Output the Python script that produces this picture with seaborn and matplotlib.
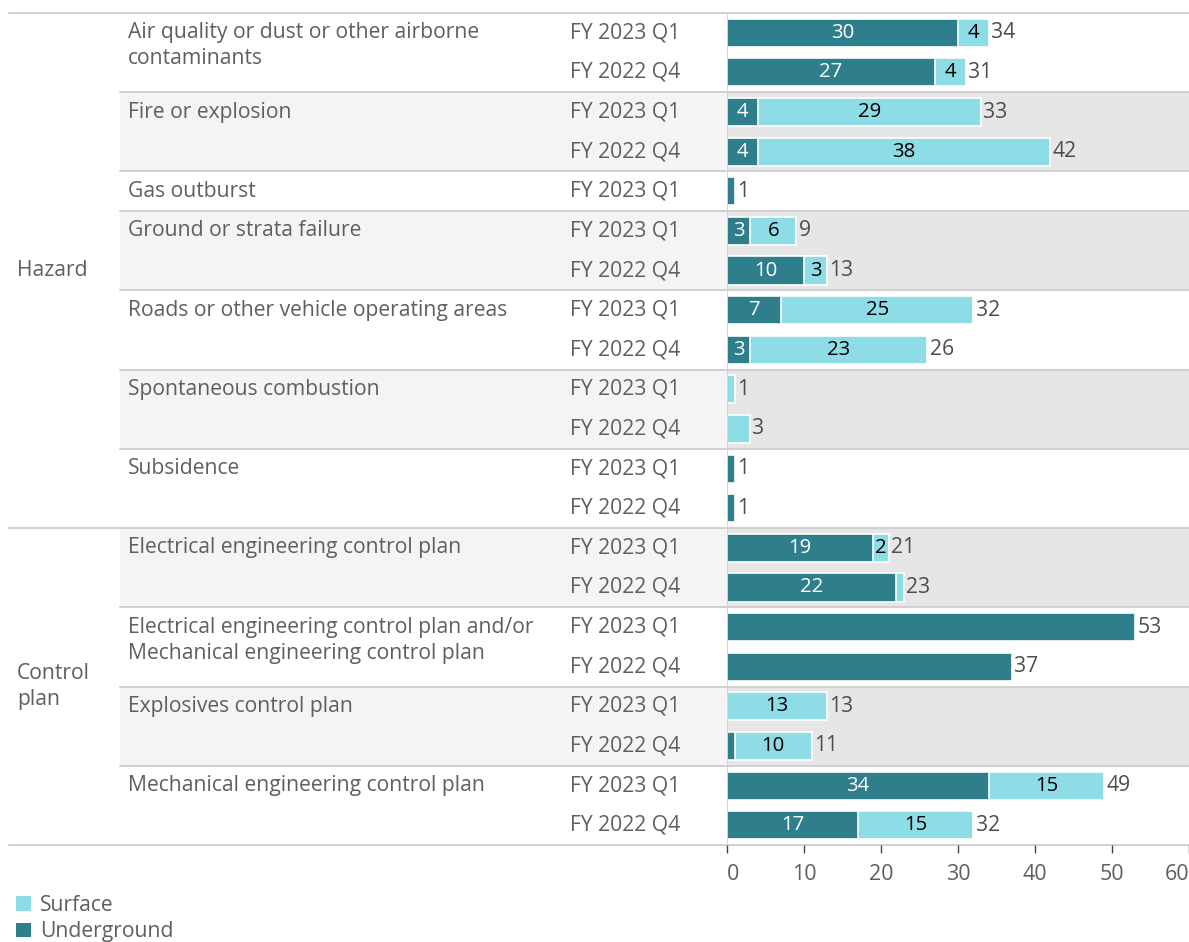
import numpy as np
import pandas as pd
import matplotlib
matplotlib.use("Agg")
import matplotlib.pyplot as plt
from matplotlib.patches import Rectangle, Patch
from matplotlib.lines import Line2D
from matplotlib.transforms import blended_transform_factory
import seaborn as sns

# ---------------- data ----------------
groups = ["Hazard", "Control\nplan"]
categories = [
    "Air quality or dust or other airborne\ncontaminants",
    "Fire or explosion",
    "Gas outburst",
    "Ground or strata failure",
    "Roads or other vehicle operating areas",
    "Spontaneous combustion",
    "Subsidence",
    "Electrical engineering control plan",
    "Electrical engineering control plan and/or\nMechanical engineering control plan",
    "Explosives control plan",
    "Mechanical engineering control plan",
]
category_group = [0, 0, 0, 0, 0, 0, 0, 1, 1, 1, 1]
row_category = [0, 0, 1, 1, 2, 3, 3, 4, 4, 5, 5, 6, 6, 7, 7, 8, 8, 9, 9, 10, 10]
row_period = ["FY 2023 Q1", "FY 2022 Q4", "FY 2023 Q1", "FY 2022 Q4", "FY 2023 Q1",
              "FY 2023 Q1", "FY 2022 Q4", "FY 2023 Q1", "FY 2022 Q4", "FY 2023 Q1",
              "FY 2022 Q4", "FY 2023 Q1", "FY 2022 Q4", "FY 2023 Q1", "FY 2022 Q4",
              "FY 2023 Q1", "FY 2022 Q4", "FY 2023 Q1", "FY 2022 Q4", "FY 2023 Q1",
              "FY 2022 Q4"]
underground = [30, 27, 4, 4, 1, 3, 10, 7, 3, 0, 0, 1, 1, 19, 22, 53, 37, 0, 1, 34, 17]
surface = [4, 4, 29, 38, 0, 6, 3, 25, 23, 1, 3, 0, 0, 2, 1, 0, 0, 13, 10, 15, 15]
underground_labels = ["30", "27", "4", "4", "", "3", "10", "7", "3", "", "", "", "",
                      "19", "22", "", "", "", "", "34", "17"]
surface_labels = ["4", "4", "29", "38", "", "6", "3", "25", "23", "", "", "", "",
                  "2", "", "", "", "13", "10", "15", "15"]
xticks = [0, 10, 20, 30, 40, 50, 60]
series_names = ["Surface", "Underground"]

# ---------------- style ----------------
C_UNDER = "#2E7E8B"
C_SURF = "#8DDCE6"
TXT = "#5f5f5f"
LINE = "#d0d0d0"
W, H = 1189, 942
FS = 15.2
ROWPX = (845 - 13) / 21.0
LINESTEP = 26 / ROWPX

sns.set_theme(style="white")
plt.rcParams["font.family"] = ["Open Sans", "DejaVu Sans"]

fig = plt.figure(figsize=(W / 100, H / 100), dpi=100)
ax = fig.add_axes([727 / W, 1 - 845 / H, (1189 - 727) / W, (845 - 13) / H])
ax.set_facecolor("none")

n = len(row_period)
df = pd.DataFrame({
    "row": [str(i) for i in range(n)],
    "underground": underground,
    "surface": surface,
})
df["total"] = df["underground"] + df["surface"]

bw = 0.71
sns.barplot(data=df, y="row", x="total", color=C_SURF, orient="h", width=bw,
            edgecolor="white", linewidth=1.2, saturation=1, ax=ax, zorder=3)
sns.barplot(data=df, y="row", x="underground", color=C_UNDER, orient="h", width=bw,
            edgecolor="white", linewidth=1.2, saturation=1, ax=ax, zorder=4)

ax.set_xlim(0, 60)
ax.set_ylim(n - 0.5, -0.5)
ax.set_ylabel("")
ax.set_xlabel("")
ax.set_yticks([])
for s in ["top", "right", "left", "bottom"]:
    ax.spines[s].set_visible(False)
ax.axvline(0, color=LINE, lw=1.2, zorder=5)

ax.set_xticks(xticks)
ax.set_xticklabels([str(t) for t in xticks])
ax.tick_params(axis="x", length=6, width=1, color="#444444", labelsize=FS + 0.3,
               labelcolor=TXT, pad=7.5, direction="out", bottom=True)
tl = ax.get_xticklabels()
tl[0].set_ha("left")
tl[-1].set_ha("right")

tr = blended_transform_factory(fig.transFigure, ax.transData)

# background bands
cat_rows = {}
for i, c in enumerate(row_category):
    cat_rows.setdefault(c, []).append(i)
for c, rows in cat_rows.items():
    y0, y1 = min(rows) - 0.5, max(rows) + 0.5
    if c % 2 == 1:
        fig.patches.append(Rectangle((120 / W, y0), (727 - 120) / W, y1 - y0,
                                     transform=tr, facecolor="#f4f4f4", edgecolor="none",
                                     zorder=-2))
        fig.patches.append(Rectangle((727 / W, y0), (W - 727) / W, y1 - y0,
                                     transform=tr, facecolor="#e6e6e6", edgecolor="none",
                                     zorder=-2))
    # category label, one text per line
    for j, line in enumerate(categories[c].split("\n")):
        fig.text(128 / W, min(rows) + j * LINESTEP, line, transform=tr, fontsize=FS,
                 color=TXT, va="center", ha="left")
    # separator
    if c > 0:
        startx = 9 if category_group[c] != category_group[c - 1] else 120
        fig.lines.append(Line2D([startx / W, 1], [y0, y0], transform=tr, color=LINE,
                                lw=1.4, zorder=-1))

# top and bottom lines
fig.lines.append(Line2D([9 / W, 1], [-0.5, -0.5], transform=tr, color=LINE, lw=1.4, zorder=-1))
fig.lines.append(Line2D([9 / W, 1], [n - 0.5, n - 0.5], transform=tr, color=LINE, lw=1.4, zorder=-1))

# group labels
for g, name in enumerate(groups):
    rows = [i for i in range(n) if category_group[row_category[i]] == g]
    yc = (min(rows) + max(rows)) / 2
    lines = name.split("\n")
    for j, line in enumerate(lines):
        fig.text(17 / W, yc + (j - (len(lines) - 1) / 2) * LINESTEP, line, transform=tr,
                 fontsize=FS, color=TXT, va="center", ha="left")

# period labels, segment labels, totals
for i in range(n):
    fig.text(570 / W, i, row_period[i], transform=tr, fontsize=FS, color=TXT,
             va="center", ha="left")
    u, s = underground[i], surface[i]
    if underground_labels[i]:
        ax.text(u / 2, i, underground_labels[i], color="white", fontsize=FS - 0.5,
                ha="center", va="center", zorder=6)
    if surface_labels[i]:
        ax.text(u + s / 2, i, surface_labels[i], color="black", fontsize=FS - 0.5,
                ha="center", va="center", zorder=6)
    ax.text(u + s + 0.3, i, str(u + s), color="#4d4d4d", fontsize=FS,
            ha="left", va="center", zorder=6)

# legend
handles = [Patch(facecolor=C_SURF, edgecolor="none"),
           Patch(facecolor=C_UNDER, edgecolor="none")]
fig.legend(handles, series_names, loc="upper left",
           bbox_to_anchor=(16 / W, 1 - 895 / H), frameon=False, fontsize=FS,
           handlelength=0.7, handleheight=0.7, handletextpad=0.45, labelspacing=0.25,
           labelcolor=TXT, borderaxespad=0, borderpad=0)

fig.savefig("out.png", dpi=100)
